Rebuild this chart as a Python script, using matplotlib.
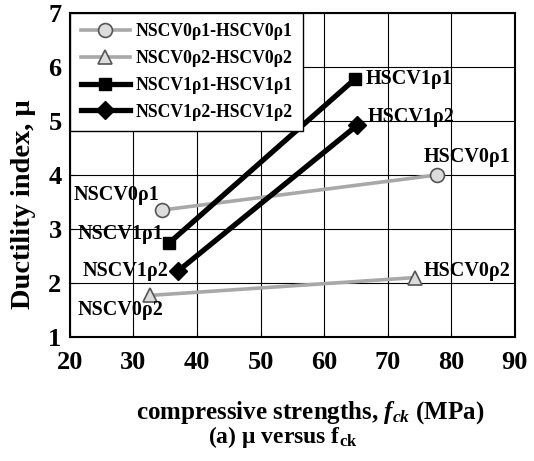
"""
Ductility index versus concrete compressive strength (NSC -> HSC pairs).
"""

import matplotlib
matplotlib.use("Agg")
import matplotlib.pyplot as plt

# ============================== data =========================================

series_names = ["NSCV0\u03c11-HSCV0\u03c11", "NSCV0\u03c12-HSCV0\u03c12",
                "NSCV1\u03c11-HSCV1\u03c11", "NSCV1\u03c12-HSCV1\u03c12"]
fck = [[34.5, 77.8], [32.6, 74.3], [35.6, 64.8], [37.0, 65.2]]
mu = [[3.35, 4.0], [1.77, 2.1], [2.74, 5.77], [2.22, 4.92]]
point_labels = [["NSCV0\u03c11", "HSCV0\u03c11"], ["NSCV0\u03c12", "HSCV0\u03c12"],
                ["NSCV1\u03c11", "HSCV1\u03c11"], ["NSCV1\u03c12", "HSCV1\u03c12"]]

x_ticks = [20, 30, 40, 50, 60, 70, 80, 90]
y_ticks = [1, 2, 3, 4, 5, 6, 7]

# ============================== style ========================================

plt.rcParams["font.family"] = ["Liberation Serif", "DejaVu Serif"]
plt.rcParams["font.weight"] = "bold"
plt.rcParams["mathtext.fontset"] = "custom"
plt.rcParams["mathtext.it"] = "Liberation Serif:italic:bold"
plt.rcParams["mathtext.rm"] = "Liberation Serif:bold"

styles = [
    dict(color="#a8a8a8", lw=2.6, marker="o", ms=10, mfc="#dcdcdc", mec="#555555", mew=1.2),
    dict(color="#a8a8a8", lw=2.6, marker="^", ms=10, mfc="#dcdcdc", mec="#555555", mew=1.2),
    dict(color="black", lw=3.8, marker="s", ms=9, mfc="black", mec="black"),
    dict(color="black", lw=3.8, marker="D", ms=9, mfc="black", mec="black"),
]

# text offsets in pixels: (start point, end point), alignment
offsets = [[((-46, 15), "center"), ((30, 18), "center")],
           [((-30, -15), "center"), ((9, 7), "left")],
           [((-6, 9), "right"), ((11, 0), "left")],
           [((-10, 0), "right"), ((11, 8), "left")]]

# ============================== main =========================================

fig = plt.figure(figsize=(5.34, 4.61), dpi=100)
ax = fig.add_axes([0.131, 0.269, 0.833, 0.703])

for i, name in enumerate(series_names):
    ax.plot(fck[i], mu[i], label=name, zorder=3, **styles[i])
    for j in range(2):
        (dx, dy), ha = offsets[i][j]
        ax.annotate(point_labels[i][j], (fck[i][j], mu[i][j]),
                    xytext=(dx, dy), textcoords="offset pixels",
                    ha=ha, va="center", fontsize=14.5, fontweight="bold", zorder=4)

ax.set_xlim(20, 90)
ax.set_ylim(1, 7)
ax.set_xticks(x_ticks)
ax.set_yticks(y_ticks)
ax.tick_params(labelsize=19, direction="in", length=3)
ax.tick_params(axis="x", pad=10)
ax.tick_params(axis="y", pad=6)
ax.grid(color="black", linewidth=0.8)
ax.set_axisbelow(True)
for sp in ax.spines.values():
    sp.set_linewidth(1.5)

ax.set_ylabel("Ductility index, \u03bc", fontsize=20.5, fontweight="bold", va="center")
ax.yaxis.set_label_coords(-0.105, 0.41)
ax.set_xlabel("compressive strengths, $f_{ck}$ (MPa)", fontsize=18,
              fontweight="bold", va="center")
ax.xaxis.set_label_coords(0.54, -0.234)
fig.text(0.53, 0.052, "(a) \u03bc versus f$_{\\mathrm{ck}}$", ha="center", va="center",
         fontsize=17, fontweight="bold")

leg = ax.legend(loc="upper left", fontsize=12.7, frameon=True, fancybox=False,
                borderaxespad=0.0, handlelength=2.8, borderpad=0.6,
                labelspacing=0.55, handletextpad=0.3)
leg.get_frame().set_edgecolor("black")
leg.get_frame().set_linewidth(1.0)
leg.get_frame().set_alpha(1.0)

plt.savefig("out.png", dpi=100)
